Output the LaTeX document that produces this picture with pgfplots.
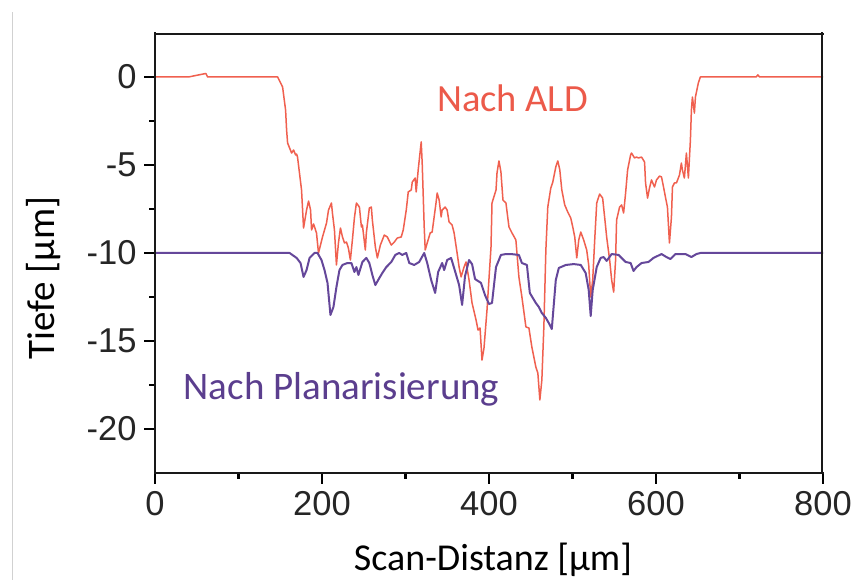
\documentclass[border=0pt]{standalone}
\usepackage{fontspec}
\setmainfont{Carlito}
\newfontfamily\arialf{Liberation Sans}
\usepackage{pgfplots}
\usepackage{pgfplotstable}
\pgfplotsset{compat=1.18}
\definecolor{redl}{HTML}{F0604F}
\definecolor{redt}{HTML}{EC5A4A}
\definecolor{purl}{HTML}{65479A}
\definecolor{purt}{HTML}{5B3E8E}

\pgfplotstableread{
x y
0 0
40 0
60.9 0.2
63 0
146.9 0
152.8 -0.57
156.4 -1.88
157.6 -3.01
158.8 -3.75
163.6 -4.32
166.0 -4.15
168.4 -4.43
169.6 -4.38
170.7 -4.55
175.5 -6.42
177.9 -8.58
181.5 -7.56
183.9 -7.05
186.3 -7.56
187.5 -8.69
189.9 -8.35
193.4 -8.86
195.8 -10.0
198.2 -9.55
200.6 -9.09
205.4 -8.30
207.8 -7.56
211.3 -7.16
212.5 -7.73
214.9 -8.69
217.3 -10.68
219.7 -9.43
222.1 -8.58
224.5 -9.09
226.9 -9.43
229.3 -9.38
231.6 -9.72
234.0 -10.40
236.4 -9.26
238.8 -8.01
241.2 -7.16
244.8 -7.39
247.2 -8.52
248.4 -8.41
251.9 -9.83
253.1 -8.86
256.7 -7.44
259.1 -7.39
260.3 -8.13
263.9 -9.66
266.3 -10.28
269.9 -9.55
274.6 -8.98
278.2 -9.09
283.0 -9.55
286.6 -9.38
290.1 -9.15
294.9 -9.09
297.3 -8.69
300.9 -7.56
303.3 -6.53
306.9 -6.42
308.1 -5.97
311.6 -5.74
312.8 -6.53
315.2 -5.28
318.8 -3.69
320.0 -4.89
322.4 -8.52
323.6 -9.83
326.0 -9.43
329.6 -8.86
331.9 -8.81
336.7 -7.10
337.9 -6.59
340.3 -6.99
342.7 -7.95
343.9 -7.56
347.5 -7.39
349.9 -7.56
352.2 -8.24
355.8 -8.41
358.2 -8.86
361.8 -10.0
364.2 -10.80
366.6 -11.36
370.1 -10.80
372.5 -10.51
376.1 -11.53
379.7 -12.84
384.5 -13.81
386.9 -14.38
389.3 -14.26
391.6 -16.08
394.0 -15.40
397.6 -13.24
402.4 -9.66
403.6 -7.16
408.4 -6.42
409.6 -5.45
411.9 -4.77
414.3 -5.40
416.7 -6.99
420.3 -7.16
423.9 -8.52
427.5 -8.86
432.2 -9.26
435.8 -11.36
439.4 -12.50
444.2 -14.20
447.8 -14.26
451.3 -15.34
456.1 -16.48
458.5 -16.82
460.9 -18.35
463.3 -17.22
465.7 -14.20
468.1 -9.83
470.4 -7.39
474.0 -6.31
476.4 -5.97
480.0 -5.11
482.4 -4.77
484.8 -5.28
487.2 -6.42
490.7 -7.27
494.3 -7.67
497.9 -8.01
500.3 -8.52
502.7 -9.09
505.1 -10.28
507.5 -9.26
509.9 -8.81
513.4 -9.26
517.0 -9.83
519.4 -10.68
521.8 -12.50
524.2 -11.53
526.6 -9.26
529.0 -7.16
532.5 -6.65
536.1 -6.88
539.7 -8.52
540.9 -9.09
544.5 -10.40
546.9 -11.53
549.3 -12.22
551.6 -10.40
552.8 -8.13
556.4 -7.39
558.8 -7.27
561.2 -7.73
563.6 -6.59
566.0 -5.28
569.6 -4.43
570.7 -4.32
574.3 -4.60
576.7 -4.55
579.1 -4.60
582.7 -4.55
586.3 -4.83
587.5 -6.02
589.9 -6.88
592.2 -6.31
594.6 -5.85
598.2 -6.25
600.6 -5.85
604.2 -5.63
606.6 -5.68
609.0 -6.25
611.3 -6.82
613.7 -7.39
616.1 -9.43
618.5 -7.95
619.7 -6.25
622.1 -6.02
624.5 -6.02
628.1 -5.57
630.4 -4.89
631.6 -5.28
634.0 -5.74
636.4 -4.32
638.8 -5.74
641.2 -3.58
642.4 -1.88
643.6 -1.14
646.0 -2.05
647.2 -1.14
650.7 -0.34
653.1 0
720 0
722 0.12
724 0
800 0
}\ald

\pgfplotstableread{
x y
0 -10
152.8 -10
161.2 -10
169.6 -10.28
174.3 -10.57
177.9 -11.36
181.5 -10.97
185.1 -10.28
191.0 -10.0
194.6 -10.0
199.4 -10.40
203.0 -10.97
206.6 -11.70
210.1 -13.52
213.7 -13.07
217.3 -11.93
220.9 -10.97
224.5 -10.68
230.4 -10.57
235.2 -10.57
238.8 -11.08
241.2 -10.80
243.6 -11.25
248.4 -10.51
253.1 -10.28
256.7 -10.57
260.3 -11.25
263.9 -11.82
268.7 -11.42
272.2 -11.14
277.0 -10.80
283.0 -10.51
287.8 -10.11
292.5 -10.0
296.1 -10.11
300.9 -10.0
304.5 -10.57
310.4 -10.68
316.4 -10.51
322.4 -10.0
326.0 -10.57
330.7 -11.53
335.5 -12.27
339.1 -11.08
343.9 -10.57
346.3 -10.97
349.9 -10.40
354.6 -10.28
358.2 -10.85
364.2 -11.82
367.8 -12.95
371.3 -11.31
376.1 -10.40
379.7 -10.63
383.3 -11.48
390.4 -11.70
395.2 -12.39
400.0 -12.90
403.6 -12.84
408.4 -10.80
414.3 -10.11
420.3 -10.06
426.3 -10.06
435.8 -10.11
439.4 -10.57
445.4 -10.68
448.9 -12.27
456.1 -12.84
459.7 -13.07
463.3 -13.41
468.1 -13.69
471.6 -13.98
475.2 -14.32
480.0 -11.53
483.6 -10.85
492.0 -10.68
501.5 -10.63
509.9 -10.68
515.8 -11.14
519.4 -12.10
521.8 -13.58
524.2 -12.10
529.0 -10.80
533.7 -10.28
537.3 -10.23
540.9 -10.45
546.9 -10.06
555.2 -10.11
563.6 -10.51
569.6 -10.57
573.1 -11.02
576.7 -10.80
582.7 -10.57
591.0 -10.51
597.0 -10.28
606.6 -10.06
612.5 -10.23
617.3 -10.34
623.3 -10.06
630.4 -10.06
635.2 -10.06
642.4 -10.23
648.4 -10.06
653.1 -10.0
800 -10
}\plan

\begin{document}
\begin{tikzpicture}[x=1pt,y=1pt]
\useasboundingbox (0,0) rectangle (853,580);
\fill[white] (0,0) rectangle (853,580);
\draw[black!18, line width=1pt] (12,0) -- (12,568);
\begin{axis}[
  at={(155pt,107pt)}, anchor=south west,
  width=668pt, height=440pt, scale only axis,
  xmin=0, xmax=800, ymin=-22.5, ymax=2.5,
  axis line style={draw=none},
  xtick={0,200,400,600,800},
  xticklabels={0,200,400,600,800},
  minor xtick={100,300,500,700},
  ytick={-20,-15,-10,-5,0},
  yticklabels={-20,-15,-10,-5,0},
  minor ytick={-17.5,-12.5,-7.5,-2.5},
  xtick pos=bottom, ytick pos=left,
  tick align=outside,
  major tick length=11pt, minor tick length=6pt,
  every tick/.style={black, line width=2.2pt},
  ticklabel style={font=\arialf\fontsize{34.5}{34.5}\selectfont, text=black!85},
  xticklabel style={yshift=-4pt},
  yticklabel style={xshift=-4pt},
  clip=true,
]
\addplot[redl, line width=1.5pt, line join=round] table[x=x,y=y] {\ald};
\addplot[purl, line width=2pt, line join=round] table[x=x,y=y] {\plan};
\end{axis}
\draw[black!90, line width=2.8pt, line cap=rect] (155,107) -- (823,107);
\draw[black!90, line width=2.8pt, line cap=rect] (155,107) -- (155,547);
\draw[black!90, line width=2.8pt, line cap=rect] (155,546) -- (823,546);
\draw[black!90, line width=2.8pt, line cap=rect] (822,107) -- (822,547);
\node[anchor=base, font=\fontsize{38.5}{38.5}\selectfont, text=redt] at (512.5,468) {Nach ALD};
\node[anchor=base, font=\fontsize{39}{39}\selectfont, text=purt] at (341.5,180) {Nach Planarisierung};
\node[anchor=base, font=\fontsize{38}{38}\selectfont] at (493,9) {Scan-Distanz [µm]};
\node[anchor=base, rotate=90, font=\fontsize{39}{39}\selectfont] at (54,302) {Tiefe [µm]};
\end{tikzpicture}
\end{document}
